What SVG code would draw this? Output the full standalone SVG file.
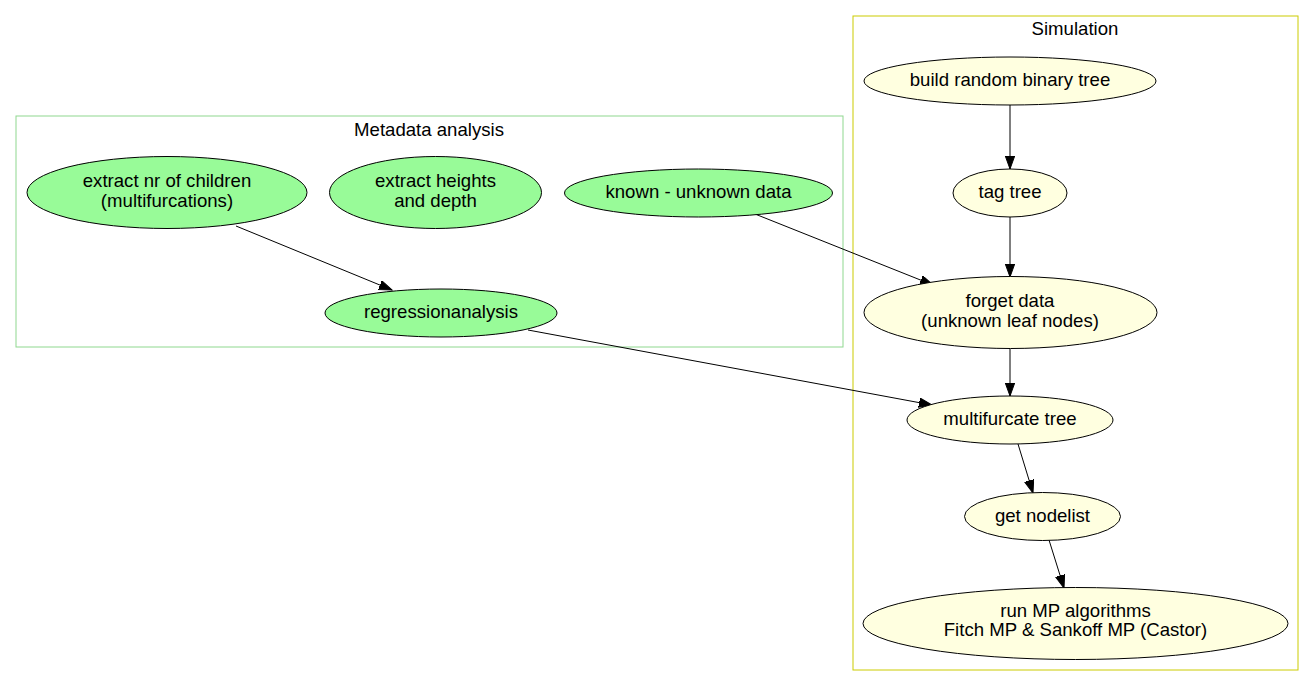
<svg xmlns="http://www.w3.org/2000/svg" width="1315" height="687" viewBox="0 0 1315 687">
<style>
text{font-family:"Liberation Sans",Arial,sans-serif;font-size:18.6px;fill:#000;text-anchor:middle}
.g ellipse{fill:#98fb98;stroke:#000;stroke-width:1}
.y ellipse{fill:#ffffe0;stroke:#000;stroke-width:1}
.edges line{stroke:#000;stroke-width:1;marker-end:url(#arr)}
</style>
<defs>
<marker id="arr" markerUnits="userSpaceOnUse" markerWidth="15" markerHeight="12" refX="13" refY="4.7" orient="auto">
<path d="M0,0 L13,4.7 L0,9.4 Z" fill="#000" stroke="#000" stroke-width="1"/>
</marker>
</defs>
<rect width="1315" height="687" fill="#fff"/>
<g id="cluster_meta">
<rect x="16" y="116" width="827" height="231" fill="none" stroke="#8fd88f"/>
<text x="429" y="136">Metadata analysis</text>
</g>
<g id="cluster_sim">
<rect x="853" y="16" width="445" height="654" fill="none" stroke="#cccc00"/>
<text x="1075" y="35">Simulation</text>
</g>
<g class="edges" id="edges">
<line x1="236" y1="226" x2="392" y2="290"/>
<line x1="755" y1="214" x2="933" y2="285"/>
<line x1="528" y1="330" x2="932" y2="405"/>
<line x1="1010" y1="105" x2="1010" y2="169"/>
<line x1="1010" y1="217" x2="1010" y2="277"/>
<line x1="1010" y1="349" x2="1010" y2="396"/>
<line x1="1018" y1="444" x2="1033" y2="493"/>
<line x1="1049" y1="540" x2="1064" y2="588"/>
</g>
<g id="n_children" class="g"><ellipse cx="167" cy="192.5" rx="140" ry="36"/><text x="167" y="187">extract nr of children</text><text x="167" y="207">(multifurcations)</text></g>
<g id="n_heights" class="g"><ellipse cx="435.5" cy="192.5" rx="106" ry="36"/><text x="435.5" y="187">extract heights</text><text x="435.5" y="207">and depth</text></g>
<g id="n_known" class="g"><ellipse cx="698.5" cy="193" rx="134" ry="24"/><text x="698.5" y="198">known - unknown data</text></g>
<g id="n_regr" class="g"><ellipse cx="441" cy="313" rx="116" ry="24"/><text x="441" y="318">regressionanalysis</text></g>
<g id="n_build" class="y"><ellipse cx="1010" cy="81" rx="146" ry="24"/><text x="1010" y="86">build random binary tree</text></g>
<g id="n_tag" class="y"><ellipse cx="1010" cy="193" rx="57" ry="24"/><text x="1010" y="198">tag tree</text></g>
<g id="n_forget" class="y"><ellipse cx="1010.5" cy="312.5" rx="146.5" ry="36"/><text x="1010" y="307">forget data</text><text x="1010" y="327">(unknown leaf nodes)</text></g>
<g id="n_multi" class="y"><ellipse cx="1010" cy="420" rx="103" ry="24"/><text x="1010" y="425">multifurcate tree</text></g>
<g id="n_nodelist" class="y"><ellipse cx="1042.5" cy="516.5" rx="78" ry="24"/><text x="1042.5" y="521.5">get nodelist</text></g>
<g id="n_run" class="y"><ellipse cx="1075.5" cy="623.5" rx="212.5" ry="36"/><text x="1075.5" y="617">run MP algorithms</text><text x="1075.5" y="636">Fitch MP &amp; Sankoff MP (Castor)</text></g>
</svg>
